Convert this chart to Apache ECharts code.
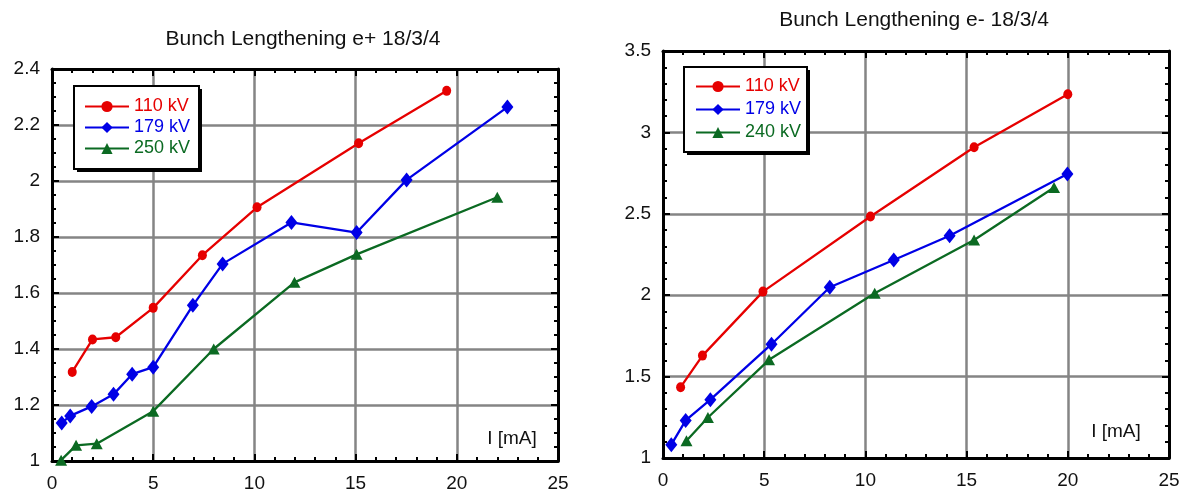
<!DOCTYPE html>
<html>
<head>
<meta charset="utf-8">
<script src="https://cdn.jsdelivr.net/npm/echarts@6/dist/echarts.min.js"></script>
<style>
  html, body { margin: 0; padding: 0; background: #fff; }
  #chart { width: 1188px; height: 497px; }
</style>
</head>
<body>
<div id="chart"></div>
<script>
// Bunch length vs beam current, two runs (e+ and e-), three RF voltages each.
// Points are [current in mA, bunch length].
const positronTitle = 'Bunch Lengthening e+ 18/3/4';
const electronTitle = 'Bunch Lengthening e- 18/3/4';
const xAxisName = 'I [mA]';

const positronNames = ['110 kV', '179 kV', '250 kV'];
const electronNames = ['110 kV', '179 kV', '240 kV'];

const pos110 = [[1.0, 1.318], [2.0, 1.434], [3.15, 1.442], [5.0, 1.547], [7.43, 1.735], [10.13, 1.906], [15.15, 2.135], [19.5, 2.322]];
const pos179 = [[0.48, 1.136], [0.9, 1.161], [1.96, 1.195], [3.04, 1.238], [3.96, 1.31], [5.0, 1.335], [6.96, 1.556], [8.43, 1.704], [11.83, 1.852], [15.05, 1.816], [17.52, 2.004], [22.5, 2.264]];
const pos250 = [[0.45, 1.003], [1.19, 1.056], [2.21, 1.062], [5.0, 1.178], [7.99, 1.4], [11.98, 1.638], [15.05, 1.738], [22.0, 1.942]];

const ele110 = [[0.87, 1.435], [1.95, 1.629], [4.94, 2.022], [10.25, 2.483], [15.37, 2.909], [20.0, 3.234]];
const ele179 = [[0.41, 1.082], [1.12, 1.231], [2.34, 1.358], [5.36, 1.699], [8.24, 2.049], [11.4, 2.216], [14.16, 2.365], [19.98, 2.744]];
const ele240 = [[1.16, 1.106], [2.22, 1.249], [5.24, 1.603], [10.46, 2.012], [15.37, 2.339], [19.32, 2.662]];

const xRange = { min: 0, max: 25, interval: 5 };
const posYRange = { min: 1, max: 2.4, interval: 0.2 };
const eleYRange = { min: 1, max: 3.5, interval: 0.5 };

const RED = '#e60000';
const BLUE = '#0000e6';
const GREEN = '#0b6a22';
const FONT = '"Liberation Sans", Arial, sans-serif';

const chart = echarts.init(document.getElementById('chart'));

// Axis builders: primary axes carry labels and grid lines; mirrored axes
// close the box and repeat the inward ticks on the top and right sides.
function xAxisPair(gridIndex) {
  const common = {
    type: 'value', gridIndex, min: xRange.min, max: xRange.max, interval: xRange.interval,
    axisLine: { show: true, onZero: false, lineStyle: { color: '#000', width: 3 } },
    axisTick: { show: true, inside: true, length: 7, lineStyle: { color: '#000', width: 2 } },
    minorTick: { show: true, splitNumber: 5, length: 4, lineStyle: { color: '#000', width: 2 } }
  };
  return [
    Object.assign({}, common, {
      position: 'bottom',
      axisLabel: { color: '#111', fontSize: 19, fontFamily: FONT, margin: 13 },
      splitLine: { show: true, lineStyle: { color: '#858585', width: 2.5 } }
    }),
    Object.assign({}, common, {
      position: 'top',
      axisLabel: { show: false },
      splitLine: { show: false }
    })
  ];
}

function yAxisPair(gridIndex, range, minorSplit) {
  const common = {
    type: 'value', gridIndex, min: range.min, max: range.max, interval: range.interval,
    axisLine: { show: true, onZero: false, lineStyle: { color: '#000', width: 3 } },
    axisTick: { show: true, inside: true, length: 7, lineStyle: { color: '#000', width: 2 } },
    minorTick: { show: true, splitNumber: minorSplit, length: 4, lineStyle: { color: '#000', width: 2 } }
  };
  return [
    Object.assign({}, common, {
      position: 'left',
      axisLabel: { color: '#111', fontSize: 19, fontFamily: FONT, margin: 12 },
      splitLine: { show: true, lineStyle: { color: '#858585', width: 2.5 } }
    }),
    Object.assign({}, common, {
      position: 'right',
      axisLabel: { show: false },
      splitLine: { show: false }
    })
  ];
}

function lineSeries(name, data, color, symbol, symbolSize, xIdx, yIdx) {
  return {
    type: 'line', name, data, xAxisIndex: xIdx, yAxisIndex: yIdx,
    symbol, symbolSize, showAllSymbol: true,
    lineStyle: { color, width: 2.3 },
    itemStyle: { color },
    animation: false
  };
}

// Legend content only; its framed box with a hard drop shadow is drawn as graphics below it.
function legendBox(names, colors, left, top, rowHeight, padding) {
  return {
    orient: 'vertical', left, top, padding,
    itemWidth: 44, itemHeight: 14, itemGap: 0,
    selectedMode: false,
    textStyle: { fontSize: 18, fontFamily: FONT, lineHeight: rowHeight },
    data: names.map((n, i) => ({ name: n, textStyle: { color: colors[i] } }))
  };
}

function framedBox(x, y, w, h) {
  return [
    { type: 'rect', shape: { x: x + 3, y: y + 3, width: w, height: h }, style: { fill: '#000' }, z: 1 },
    { type: 'rect', shape: { x, y, width: w, height: h }, style: { fill: '#fff', stroke: '#000', lineWidth: 2 }, z: 1 }
  ];
}

function label(text, x, y, size) {
  return { type: 'text', x, y, z: 3, style: { text, fill: '#111', font: size + 'px ' + FONT, textAlign: 'center', textVerticalAlign: 'middle' } };
}

const colors = [RED, BLUE, GREEN];

const option = {
  backgroundColor: '#fff',
  animation: false,
  grid: [
    { left: 52, top: 69, width: 506, height: 392 },
    { left: 663, top: 51, width: 506, height: 407 }
  ],
  xAxis: [...xAxisPair(0), ...xAxisPair(1)],
  yAxis: [...yAxisPair(0, posYRange, 4), ...yAxisPair(1, eleYRange, 5)],
  legend: [
    legendBox(positronNames, colors, 73, 85, 21, [11, 10, 12, 11]),
    legendBox(electronNames, colors, 683, 66, 23, [9, 10, 9, 12])
  ],
  series: [
    lineSeries(positronNames[0], pos110, RED, 'circle', [9, 10], 0, 0),
    lineSeries(positronNames[1], pos179, BLUE, 'diamond', [12, 15], 0, 0),
    lineSeries(positronNames[2], pos250, GREEN, 'triangle', [12, 11], 0, 0),
    lineSeries(electronNames[0], ele110, RED, 'circle', [9, 10], 2, 2),
    lineSeries(electronNames[1], ele179, BLUE, 'diamond', [12, 15], 2, 2),
    lineSeries(electronNames[2], ele240, GREEN, 'triangle', [12, 11], 2, 2)
  ],
  graphic: [
    ...framedBox(74, 86, 125, 83),
    ...framedBox(684, 67, 123, 85),
    label(positronTitle, 303, 39, 21),
    label(electronTitle, 914, 20, 21),
    label(xAxisName, 512, 439, 19),
    label(xAxisName, 1116, 432, 19)
  ]
};

chart.setOption(option);
</script>
</body>
</html>
